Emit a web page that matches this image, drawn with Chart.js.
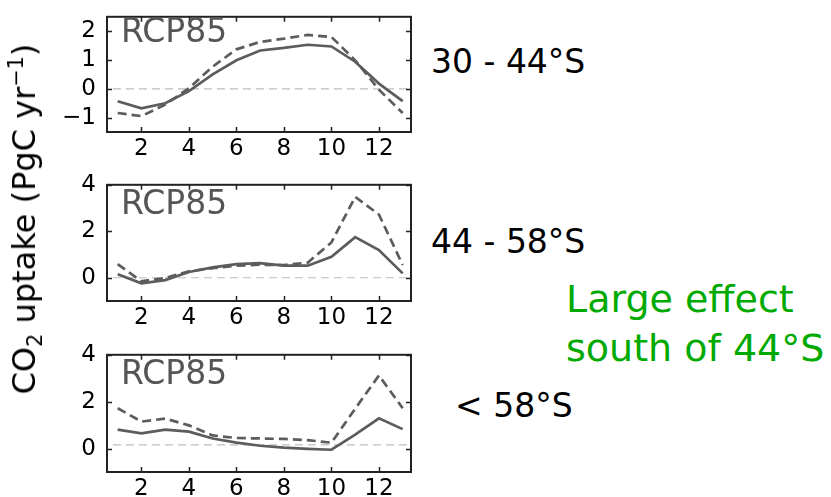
<!DOCTYPE html>
<html>
<head>
<meta charset="utf-8">
<script src="https://cdn.jsdelivr.net/npm/chart.js@4/dist/chart.umd.min.js"></script>
<style>
body{margin:0;background:#fff;width:831px;height:497px;overflow:hidden;position:relative;font-family:"DejaVu Sans",sans-serif}
canvas{position:absolute;left:0}
.txt{position:absolute;white-space:nowrap;line-height:1;color:#000}
.rcp{font-size:33px;color:#555}
.band{font-size:33px}
.green{font-size:38px;color:#00aa00}
#ytitle{position:absolute;left:24px;top:219px;font-size:32px;line-height:1;white-space:nowrap;transform:translate(-50%,-50%) rotate(-90deg)}
#ytitle sub,#ytitle sup{font-size:0.65em;line-height:0}
</style>
</head>
<body>

<canvas id="c1"></canvas>
<canvas id="c2"></canvas>
<canvas id="c3"></canvas>

<div id="ytitle">CO<sub>2</sub> uptake (PgC yr<sup>−1</sup>)</div>

<div class="txt rcp" style="left:121px;top:14px">RCP85</div>
<div class="txt rcp" style="left:121px;top:186px">RCP85</div>
<div class="txt rcp" style="left:121px;top:356px">RCP85</div>

<div class="txt band" style="left:431px;top:45px">30 - 44°S</div>
<div class="txt band" style="left:431px;top:225px">44 - 58°S</div>
<div class="txt band" style="left:455px;top:389px">&lt; 58°S</div>

<div class="txt green" style="left:566px;top:280px">Large effect</div>
<div class="txt green" style="left:566px;top:329px">south of 44°S</div>

<script>
/* ====================================
   DATA
==================================== */

// months 1..13 on the x axis
const months=[1,2,3,4,5,6,7,8,9,10,11,12,13]
const xTicks=[2,4,6,8,10,12]

// 30 - 44°S
const solid1=[-0.43,-0.68,-0.5,-0.08,0.5,0.99,1.33,1.42,1.53,1.47,0.94,0.18,-0.43]
const dashed1=[-0.84,-0.95,-0.55,0.02,0.77,1.37,1.63,1.74,1.87,1.8,0.99,-0.03,-0.84]
const yTicks1=[-1,0,1,2]

// 44 - 58°S
const solid2=[0.15,-0.24,-0.1,0.25,0.45,0.59,0.63,0.52,0.52,0.9,1.75,1.19,0.19]
const dashed2=[0.59,-0.15,-0.01,0.28,0.41,0.52,0.56,0.55,0.65,1.52,3.48,2.72,0.55]
const yTicks2=[0,2,4]

// < 58°S
const solid3=[0.81,0.65,0.81,0.72,0.43,0.25,0.12,0.04,-0.01,-0.05,0.59,1.29,0.83]
const dashed3=[1.72,1.15,1.28,0.99,0.56,0.45,0.43,0.41,0.36,0.25,1.7,3.12,1.72]
const yTicks3=[0,2,4]

// grey reference lines
const baseX=[0.8,13.2]
const baseY=[0,0,0.16]



/* ====================================
   BOX AND INWARD TICKS
==================================== */

const boxPlugin={
id:"box",
afterDraw(chart){
const ctx=chart.ctx
const a=chart.chartArea
const xs=chart.scales.x
const ys=chart.scales.y
ctx.save()
ctx.strokeStyle="#222"
ctx.lineWidth=1.5
ctx.beginPath()
xs.ticks.forEach(t=>{
const px=Math.round(xs.getPixelForValue(t.value))+0.5
ctx.moveTo(px,a.bottom);ctx.lineTo(px,a.bottom-5)
ctx.moveTo(px,a.top);ctx.lineTo(px,a.top+5)
})
ys.ticks.forEach(t=>{
const py=Math.round(ys.getPixelForValue(t.value))+0.5
ctx.moveTo(a.left,py);ctx.lineTo(a.left+5,py)
ctx.moveTo(a.right,py);ctx.lineTo(a.right-5,py)
})
ctx.stroke()
ctx.lineWidth=2
ctx.strokeRect(a.left,a.top,a.right-a.left,a.bottom-a.top)
ctx.restore()
}
}



/* ====================================
   ONE PANEL
==================================== */

function drawPanel(id,top,plotH,solid,dashed,yTicks,yMin,yMax,base){

const canvas=document.getElementById(id)
canvas.width=420
canvas.height=8+plotH+30
canvas.style.top=(top-8)+"px"

const tickFont={family:"DejaVu Sans",size:23}

new Chart(canvas,{

type:"line",

data:{
labels:months,
datasets:[
{data:solid,borderColor:"#5c5c5c",borderWidth:2.7,pointRadius:0,tension:0},
{data:dashed,borderColor:"#5c5c5c",borderWidth:2.7,borderDash:[9,5],pointRadius:0,tension:0},
{data:baseX.map(x=>({x:x,y:base})),borderColor:"#bdbdbd",borderWidth:1.2,borderDash:[8,5],pointRadius:0}
]
},

options:{
responsive:false,
animation:false,
layout:{padding:{top:8,right:9,left:0,bottom:0}},
plugins:{legend:{display:false},tooltip:{enabled:false}},
scales:{
x:{
type:"linear",
min:0.55,
max:13.35,
grid:{display:false},
border:{display:false},
afterBuildTicks:s=>{s.ticks=xTicks.map(v=>({value:v}))},
afterFit:s=>{s.height=30},
ticks:{color:"#000",font:tickFont,padding:-5,maxRotation:0}
},
y:{
min:yMin,
max:yMax,
grid:{display:false},
border:{display:false},
afterBuildTicks:s=>{s.ticks=yTicks.map(v=>({value:v}))},
afterFit:s=>{s.width=107},
ticks:{color:"#000",font:tickFont,padding:3,
callback:v=>String(v).replace("-","\u2212")}
}
}
},

plugins:[boxPlugin]

})

}

drawPanel("c1",8,124,solid1,dashed1,yTicks1,-1.5,2.5,baseY[0])
drawPanel("c2",176,125,solid2,dashed2,yTicks2,-1,4,baseY[1])
drawPanel("c3",346,126,solid3,dashed3,yTicks3,-1,4,baseY[2])
</script>
</body>
</html>
